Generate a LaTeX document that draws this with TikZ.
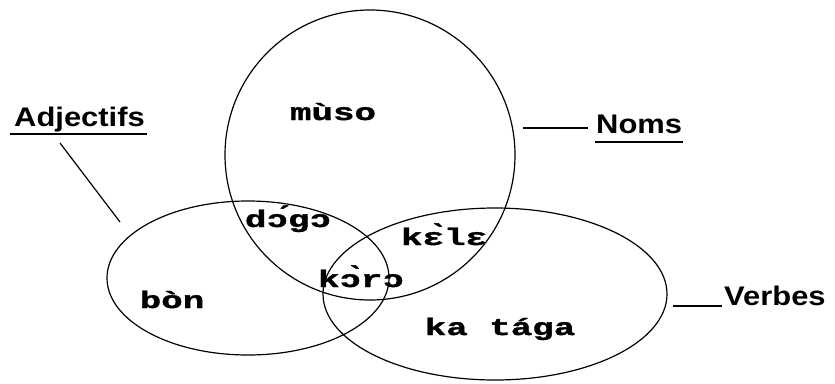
\documentclass[tikz,border=0pt]{standalone}
\usepackage{fontspec}
\newfontfamily\labfont[FakeStretch=1.15]{Liberation Sans}
\newfontfamily\wordfont[FakeStretch=1.5,FakeBold=1.5]{Liberation Mono}
\usetikzlibrary{shapes.geometric}

\begin{document}
\begin{tikzpicture}[
  x=1bp, y=-1bp,
  set/.style={draw, ellipse, line width=1.2pt, inner sep=0pt},
  word/.style={font=\wordfont\bfseries\fontsize{24}{24}\selectfont, inner sep=0pt, anchor=base},
  lab/.style={font=\labfont\bfseries\fontsize{27}{27}\selectfont, inner sep=0pt, anchor=base west},
  lead/.style={line width=1.2pt},
  uline/.style={line width=2.4pt}
]
\useasboundingbox (0,0) rectangle (835,383);

% --- the three sets ---
\node[set, minimum width=290bp, minimum height=290bp] (noms) at (370,155) {};
\node[set, minimum width=282bp, minimum height=154bp] (adj) at (248,278) {};
\node[set, minimum width=344bp, minimum height=172bp] (verbes) at (495,294) {};

% --- words ---
\node[word] (muso) at (333,120) {mùso};
\node[word] (dogo) at (288,227) {dɔ́gɔ};
\node[word] (kele) at (444,245) {kɛ̀lɛ};
\node[word] (koro) at (361,287) {kɔ̀rɔ};
\node[word] (bon) at (172,308) {bòn};
\node[word] (taga) at (500,335) {ka tága};

% --- labels ---
\node[lab] (adjl) at (14,126) {Adjectifs};
\node[lab] (noml) at (596,133) {Noms};
\node[lab] (verbl) at (724,305) {Verbes};

\draw[uline] (10,134) -- (147,134);
\draw[uline] (595,142) -- (683,142);

\coordinate (adjfoot) at (60,143);
\coordinate (adjtip) at (120,222);
\coordinate (nomtip) at (523,128);
\coordinate (verbtip) at (673,306);

\draw[lead] (adjfoot) -- (adjtip);
\draw[lead, shorten >=8bp] (nomtip) -- (nomtip -| noml.west);
\draw[lead, shorten >=2bp] (verbtip) -- (verbtip -| verbl.west);

\end{tikzpicture}
\end{document}
